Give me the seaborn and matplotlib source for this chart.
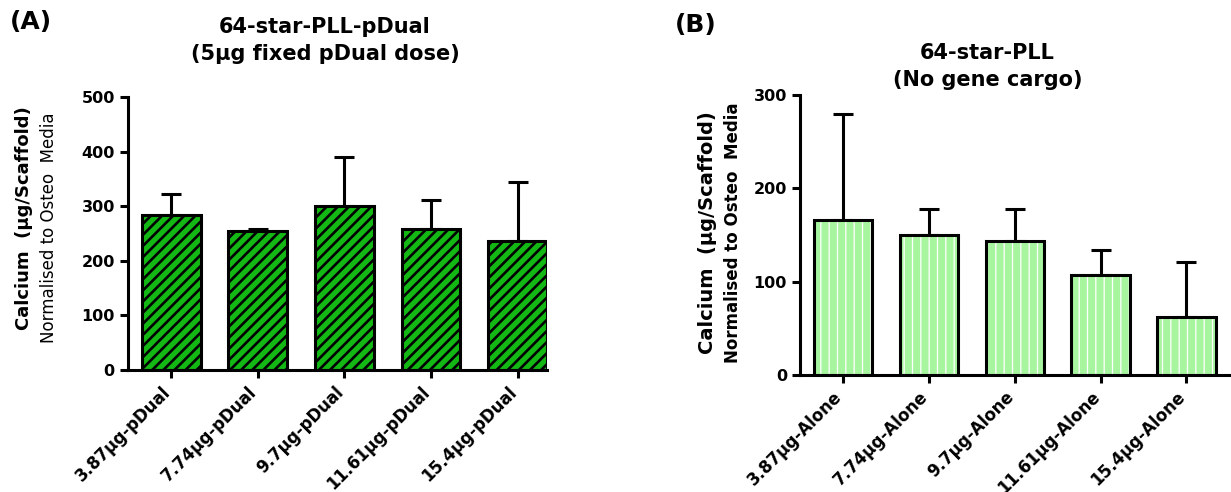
import matplotlib
matplotlib.use("Agg")
import matplotlib.pyplot as plt
import matplotlib.transforms as mtransforms
import seaborn as sns
import pandas as pd
import numpy as np

# Values
labels_a = ["3.87µg-pDual", "7.74µg-pDual", "9.7µg-pDual", "11.61µg-pDual", "15.4µg-pDual"]
mean_a = [284, 255, 301, 258, 236]
err_a = [39, 3, 90, 53, 108]

labels_b = ["3.87µg-Alone", "7.74µg-Alone", "9.7µg-Alone", "11.61µg-Alone", "15.4µg-Alone"]
mean_b = [166, 150, 144, 107, 62]
err_b = [114, 28, 34, 27, 59]

sns.set_style("ticks")
plt.rcParams["font.family"] = ["DejaVu Sans"]
plt.rcParams["font.weight"] = "bold"
for k in ["text.color", "axes.labelcolor", "xtick.color", "ytick.color", "axes.edgecolor"]:
    plt.rcParams[k] = "black"

fig = plt.figure(figsize=(12.31, 4.92), dpi=100)
ax_a = fig.add_axes([0.104, 0.248, 0.3404, 0.554])
ax_b = fig.add_axes([0.650, 0.238, 0.350, 0.569])

LW = 2.2


def draw_panel(ax, labels, means, errs, color, hatch, hatch_color, hatch_lw, ymax, step):
    df = pd.DataFrame({"group": labels, "value": means})
    plt.rcParams["hatch.linewidth"] = hatch_lw
    # hatched fill layer
    sns.barplot(data=df, x="group", y="value", ax=ax, color=color, width=0.68,
                saturation=1, errorbar=None)
    for p in ax.patches:
        p.set_facecolor(color)
        p.set_hatch(hatch)
        p.set_edgecolor(hatch_color)
        p.set_linewidth(0)
        if hasattr(p, "set_hatch_linewidth"):
            p.set_hatch_linewidth(hatch_lw)
    # outline layer
    n = len(ax.patches)
    sns.barplot(data=df, x="group", y="value", ax=ax, color="none", width=0.68,
                errorbar=None)
    for p in ax.patches[n:]:
        p.set_facecolor("none")
        p.set_edgecolor("black")
        p.set_linewidth(LW)
        p.set_hatch(None)
    x = np.arange(len(labels))
    ax.errorbar(x, means, yerr=[np.zeros(len(errs)), errs], fmt="none",
                ecolor="black", elinewidth=LW, capsize=7, capthick=LW, zorder=0)
    ax.set_ylim(0, ymax)
    ax.set_yticks(np.arange(0, ymax + 1, step))
    ax.set_xlabel("")
    ax.set_ylabel("")
    sns.despine(ax=ax)
    for s in ["left", "bottom"]:
        ax.spines[s].set_linewidth(LW)
    ax.tick_params(axis="both", width=LW, length=6, labelsize=11.5, colors="black")
    ax.set_xticks(x)
    ax.set_xticklabels(labels, rotation=45, ha="right", rotation_mode="anchor",
                       fontsize=12, fontweight="bold")
    shift = mtransforms.ScaledTranslation(-0.1, 0, fig.dpi_scale_trans)
    for t in ax.get_xticklabels():
        t.set_transform(t.get_transform() + shift)
    for t in ax.get_yticklabels():
        t.set_fontweight("bold")


draw_panel(ax_a, labels_a, mean_a, err_a, "#14b814", "///", "black", 1.9, 500, 100)
ax_a.set_xlim(-0.5, 4.34)
draw_panel(ax_b, labels_b, mean_b, err_b, "#a8f5a0", "||", "white", 0.9, 300, 100)
ax_b.set_xlim(-0.5, 4.52)

# titles
fig.text(0.264, 0.945, "64-star-PLL-pDual", ha="center", va="center", fontsize=15, fontweight="bold")
fig.text(0.264, 0.890, "(5µg fixed pDual dose)", ha="center", va="center", fontsize=15, fontweight="bold")
fig.text(0.802, 0.893, "64-star-PLL", ha="center", va="center", fontsize=15, fontweight="bold")
fig.text(0.802, 0.838, "(No gene cargo)", ha="center", va="center", fontsize=15, fontweight="bold")

# panel letters
fig.text(0.008, 0.955, "(A)", ha="left", va="center", fontsize=18, fontweight="bold")
fig.text(0.548, 0.950, "(B)", ha="left", va="center", fontsize=18, fontweight="bold")

# y labels (two lines, different weights)
fig.text(0.0195, 0.556, "Calcium  (µg/Scaffold)", rotation=90, ha="center", va="center",
         fontsize=13, fontweight="bold")
fig.text(0.0398, 0.537, "Normalised to Osteo  Media", rotation=90, ha="center", va="center",
         fontsize=12, fontweight="normal")
fig.text(0.575, 0.528, "Calcium  (µg/Scaffold)", rotation=90, ha="center", va="center",
         fontsize=14, fontweight="bold")
fig.text(0.5955, 0.526, "Normalised to Osteo  Media", rotation=90, ha="center", va="center",
         fontsize=12, fontweight="bold")

fig.savefig("out.png", dpi=100)
